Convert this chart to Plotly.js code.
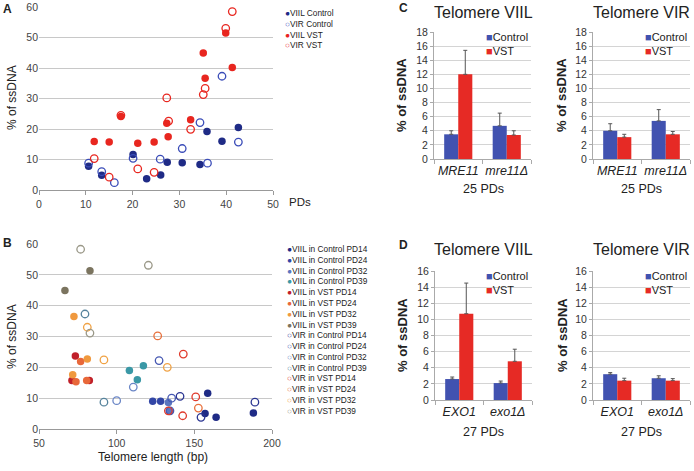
<!DOCTYPE html>
<html>
<head>
<meta charset="utf-8">
<script src="https://cdn.plot.ly/plotly-3.0.1.min.js"></script>
<style>body{margin:0;background:#fff}#plot{width:694px;height:471px}</style>
</head>
<body>
<div id="plot"></div>
<script>
// ---- Panel A: % ssDNA against population doublings ----
var aViilCtrlX = [10.6, 13.4, 20.1, 23.0, 26.0, 27.4, 30.6, 34.4, 35.9, 39.1, 42.6];
var aViilCtrlY = [7.8, 4.8, 11.6, 3.7, 4.9, 9.1, 8.9, 8.4, 19.2, 16.0, 20.5];
var aVirCtrlX = [10.6, 13.4, 16.1, 20.1, 25.9, 30.6, 34.4, 36.0, 39.1, 42.6];
var aVirCtrlY = [8.8, 6.0, 2.4, 10.4, 10.1, 13.6, 22.1, 8.8, 37.3, 15.7];
var aViilVstX = [11.8, 15.0, 17.5, 21.1, 24.6, 27.3, 27.6, 32.4, 35.1, 35.5, 39.9, 41.3];
var aViilVstY = [15.9, 15.7, 24.1, 15.3, 15.7, 21.9, 17.5, 23.0, 44.9, 36.6, 51.5, 40.2];
var aVirVstX = [11.8, 15.0, 17.5, 21.1, 24.6, 27.3, 27.7, 32.4, 35.1, 35.5, 39.9, 41.3];
var aVirVstY = [10.3, 4.2, 24.5, 6.9, 5.8, 30.2, 22.6, 19.9, 31.3, 33.3, 53.0, 58.5];

// ---- Panel B: % ssDNA against telomere length ----
var bNames = ['VIIL in Control PD14', 'VIIL in Control PD24', 'VIIL in Control PD32', 'VIIL in Control PD39',
              'VIIL in VST PD14', 'VIIL in VST PD24', 'VIIL in VST PD32', 'VIIL in VST PD39',
              'VIR in Control PD14', 'VIR in Control PD24', 'VIR in Control PD32', 'VIR in Control PD39',
              'VIR in VST PD14', 'VIR in VST PD24', 'VIR in VST PD32', 'VIR in VST PD39'];
var bColors = ['#1f2b86', '#3246a6', '#5a76c0', '#3a98a6',
               '#c0202a', '#e8683a', '#f0993e', '#7b745f',
               '#2a3592', '#4557b2', '#6a86c6', '#56839c',
               '#e03a2c', '#e8703c', '#f0a244', '#9a9888'];
var bX = [[158.6, 156.9, 164.0, 188.0], [123.2, 128.3], [133.3, 134.0], [108.2, 113.3, 117.2],
          [73.4, 71.2, 82.4], [76.8, 73.8, 80.7], [72.5, 71.7, 81.1], [66.7, 82.8],
          [154.3, 189.0, 140.8], [135.4, 127.3, 134.3], [110.7, 100.0], [91.8, 79.6],
          [142.9, 150.9, 142.5, 133.3], [126.4, 152.6], [81.1, 91.8, 132.6], [76.8, 82.8, 120.4]];
var bY = [[11.6, 5.0, 3.8, 5.2], [9.0, 9.0], [8.6, 5.8], [19.0, 16.0, 20.5],
          [23.7, 15.7, 15.7], [21.9, 15.3, 15.7], [36.5, 17.6, 22.7], [44.9, 51.3],
          [3.8, 8.7, 10.6], [10.0, 22.2, 5.9], [13.6, 9.2], [8.7, 37.3],
          [24.3, 10.4, 4.3, 5.9], [30.2, 6.8], [33.0, 22.4, 20.0], [58.3, 31.1, 53.1]];

// ---- Panels C and D: bar charts ----
var cCats = ['<i>MRE11</i>', '<i>mre11Δ</i>'];
var dCats = ['<i>EXO1</i>', '<i>exo1Δ</i>'];
var cViilCtrl = [3.5, 4.7], cViilCtrlErr = [0.5, 1.8];
var cViilVst = [12.0, 3.4], cViilVstErr = [3.4, 0.6];
var cVirCtrl = [4.0, 5.4], cVirCtrlErr = [1.0, 1.6];
var cVirVst = [3.1, 3.5], cVirVstErr = [0.4, 0.4];
var dViilCtrl = [2.6, 2.1], dViilCtrlErr = [0.25, 0.25];
var dViilVst = [10.7, 4.8], dViilVstErr = [3.8, 1.5];
var dVirCtrl = [3.2, 2.7], dVirCtrlErr = [0.2, 0.3];
var dVirVst = [2.4, 2.4], dVirVstErr = [0.3, 0.25];

var blue = '#4152b0', red = '#e62a25';
var font = 'Liberation Sans, Arial, sans-serif';

var traces = [];

function scatterA(x, y, color, open) {
    traces.push({
        x: x, y: y, type: 'scatter', mode: 'markers', xaxis: 'x', yaxis: 'y',
        marker: {size: 7.5, color: open ? 'rgba(0,0,0,0)' : color, symbol: 'circle',
                 line: {color: color, width: open ? 1.3 : 0}},
        showlegend: false
    });
}
scatterA(aViilCtrlX, aViilCtrlY, '#1f2b86', false);
scatterA(aVirCtrlX, aVirCtrlY, '#3a4cb8', true);
scatterA(aViilVstX, aViilVstY, '#e8261f', false);
scatterA(aVirVstX, aVirVstY, '#e8261f', true);

for (var i = 0; i < bNames.length; i++) {
    var open = bNames[i].indexOf('VIR') === 0;
    traces.push({
        x: bX[i], y: bY[i], type: 'scatter', mode: 'markers', xaxis: 'x2', yaxis: 'y2', name: bNames[i],
        marker: {size: 7.5, color: open ? 'rgba(0,0,0,0)' : bColors[i],
                 line: {color: bColors[i], width: open ? 1.3 : 0}},
        showlegend: false
    });
}

function bars(cats, ctrl, ctrlErr, vst, vstErr, n) {
    var zero = [0, 0];
    [[ctrl, ctrlErr, blue], [vst, vstErr, red]].forEach(function (s) {
        traces.push({
            x: cats, y: s[0], type: 'bar', xaxis: 'x' + n, yaxis: 'y' + n,
            marker: {color: s[2], line: {width: 0}},
            error_y: {type: 'data', array: s[1], arrayminus: zero, symmetric: false,
                      color: '#555', thickness: 1, width: 2},
            showlegend: false
        });
    });
}
bars(cCats, cViilCtrl, cViilCtrlErr, cViilVst, cViilVstErr, 3);
bars(cCats, cVirCtrl, cVirCtrlErr, cVirVst, cVirVstErr, 4);
bars(dCats, dViilCtrl, dViilCtrlErr, dViilVst, dViilVstErr, 5);
bars(dCats, dVirCtrl, dVirCtrlErr, dVirVst, dVirVstErr, 6);

// pixel helpers for the 694 x 471 canvas
function px(v) { return v / 694; }
function py(v) { return 1 - v / 471; }

function scatterX(dom, range, dtick, anchor) {
    return {domain: dom, range: range, dtick: dtick, anchor: anchor, showgrid: false, zeroline: false,
            showline: true, linecolor: '#999', ticks: 'outside', ticklen: 4, tickcolor: '#999',
            tickfont: {size: 10.5, color: '#444'}};
}
function scatterY(dom, anchor) {
    return {domain: dom, range: [0, 60], dtick: 10, anchor: anchor, showgrid: true, gridcolor: '#c8c8c8',
            zeroline: false, showline: false, ticks: '', tickfont: {size: 10.5, color: '#444'}};
}
function barX(dom, anchor) {
    return {domain: dom, anchor: anchor, type: 'category', showline: true, linecolor: '#aaa',
            ticks: 'outside', tickson: 'boundaries', ticklen: 4, tickcolor: '#aaa', tickangle: 0,
            tickfont: {size: 12.5, color: '#222'}};
}
function barY(dom, anchor, max) {
    return {domain: dom, anchor: anchor, range: [0, max], dtick: 2, showgrid: true, gridcolor: '#d4d4d4',
            zeroline: false, showline: true, linecolor: '#aaa', ticks: 'outside', ticklen: 3,
            tickcolor: '#aaa', tickfont: {size: 10.5, color: '#333'}};
}

function legendText(names, colors, filled) {
    return names.map(function (n, k) {
        return '<span style="color:' + colors[k] + '">' + (filled[k] ? '●' : '○') + '</span>' + n;
    }).join('<br>');
}

var annotations = [
    // panel letters
    {text: '<b>A</b>', x: px(8), y: py(9), font: {size: 12}},
    {text: '<b>B</b>', x: px(8), y: py(243), font: {size: 12}},
    {text: '<b>C</b>', x: px(403), y: py(8), font: {size: 12}},
    {text: '<b>D</b>', x: px(403), y: py(245), font: {size: 12}},
    // scatter axis titles
    {text: '% of ssDNA', x: px(12), y: py(98), textangle: -90, font: {size: 12}},
    {text: '% of ssDNA', x: px(12), y: py(337), textangle: -90, font: {size: 12}},
    {text: 'PDs', x: px(300), y: py(202), font: {size: 11.5}},
    {text: 'Telomere length (bp)', x: px(153), y: py(457), font: {size: 12}},
    // scatter legends
    {text: legendText(['VIIL Control', 'VIR Control', 'VIIL VST', 'VIR VST'],
                      ['#1f2b86', '#3a4cb8', '#e8261f', '#e8261f'], [true, false, true, false]),
     x: px(283), y: py(6), xanchor: 'left', yanchor: 'top', align: 'left', font: {size: 8.3}},
    {text: legendText(bNames, bColors, bNames.map(function (n) { return n.indexOf('VIIL') === 0; })),
     x: px(285), y: py(242), xanchor: 'left', yanchor: 'top', align: 'left', font: {size: 8.3}},
    // bar panel titles
    {text: 'Telomere VIIL', x: px(483), y: py(13), font: {size: 16}},
    {text: 'Telomere VIR', x: px(641), y: py(13), font: {size: 16}},
    {text: 'Telomere VIIL', x: px(483), y: py(249), font: {size: 16}},
    {text: 'Telomere VIR', x: px(641), y: py(249), font: {size: 16}},
    {text: '25 PDs', x: px(483), y: py(189), font: {size: 12.5}},
    {text: '25 PDs', x: px(641), y: py(189), font: {size: 12.5}},
    {text: '27 PDs', x: px(483), y: py(432), font: {size: 12.5}},
    {text: '27 PDs', x: px(641), y: py(432), font: {size: 12.5}},
    {text: '<b>% of ssDNA</b>', x: px(402), y: py(95), textangle: -90, font: {size: 13}},
    {text: '<b>% of ssDNA</b>', x: px(562), y: py(95), textangle: -90, font: {size: 13}},
    {text: '<b>% of ssDNA</b>', x: px(402), y: py(335), textangle: -90, font: {size: 13}},
    {text: '<b>% of ssDNA</b>', x: px(562), y: py(335), textangle: -90, font: {size: 13}}
];
var barLegend = '<span style="color:' + blue + '">■</span>Control<br><span style="color:' + red + '">■</span>VST';
[[484, 29], [643, 29], [484, 268], [643, 268]].forEach(function (p) {
    annotations.push({text: barLegend, x: px(p[0]), y: py(p[1]), xanchor: 'left', yanchor: 'top',
                      align: 'left', font: {size: 11}});
});
annotations.forEach(function (a) {
    a.xref = 'paper'; a.yref = 'paper'; a.showarrow = false;
    a.xanchor = a.xanchor || 'center';
    a.yanchor = a.yanchor || 'middle';
    a.font.family = font;
    a.font.color = a.font.color || '#222';
});

var layout = {
    width: 694, height: 471,
    margin: {l: 0, r: 0, t: 0, b: 0},
    paper_bgcolor: '#fff', plot_bgcolor: 'rgba(0,0,0,0)',
    font: {family: font, color: '#333'},
    showlegend: false,
    barmode: 'group', bargap: 0.42, bargroupgap: 0,
    xaxis: scatterX([px(39), px(273)], [0, 50], 10, 'y'),
    yaxis: scatterY([py(190), py(7)], 'x'),
    xaxis2: scatterX([px(39), px(272)], [50, 200], 50, 'y2'),
    yaxis2: scatterY([py(429), py(244)], 'x2'),
    xaxis3: barX([px(434), px(531)], 'y3'),
    yaxis3: barY([py(159), py(32)], 'x3', 18),
    xaxis4: barX([px(593), px(690)], 'y4'),
    yaxis4: barY([py(159), py(32)], 'x4', 18),
    xaxis5: barX([px(435), px(532)], 'y5'),
    yaxis5: barY([py(400), py(271)], 'x5', 16),
    xaxis6: barX([px(593), px(690)], 'y6'),
    yaxis6: barY([py(400), py(271)], 'x6', 16),
    annotations: annotations
};

Plotly.newPlot('plot', traces, layout, {staticPlot: true});
</script>
</body>
</html>
